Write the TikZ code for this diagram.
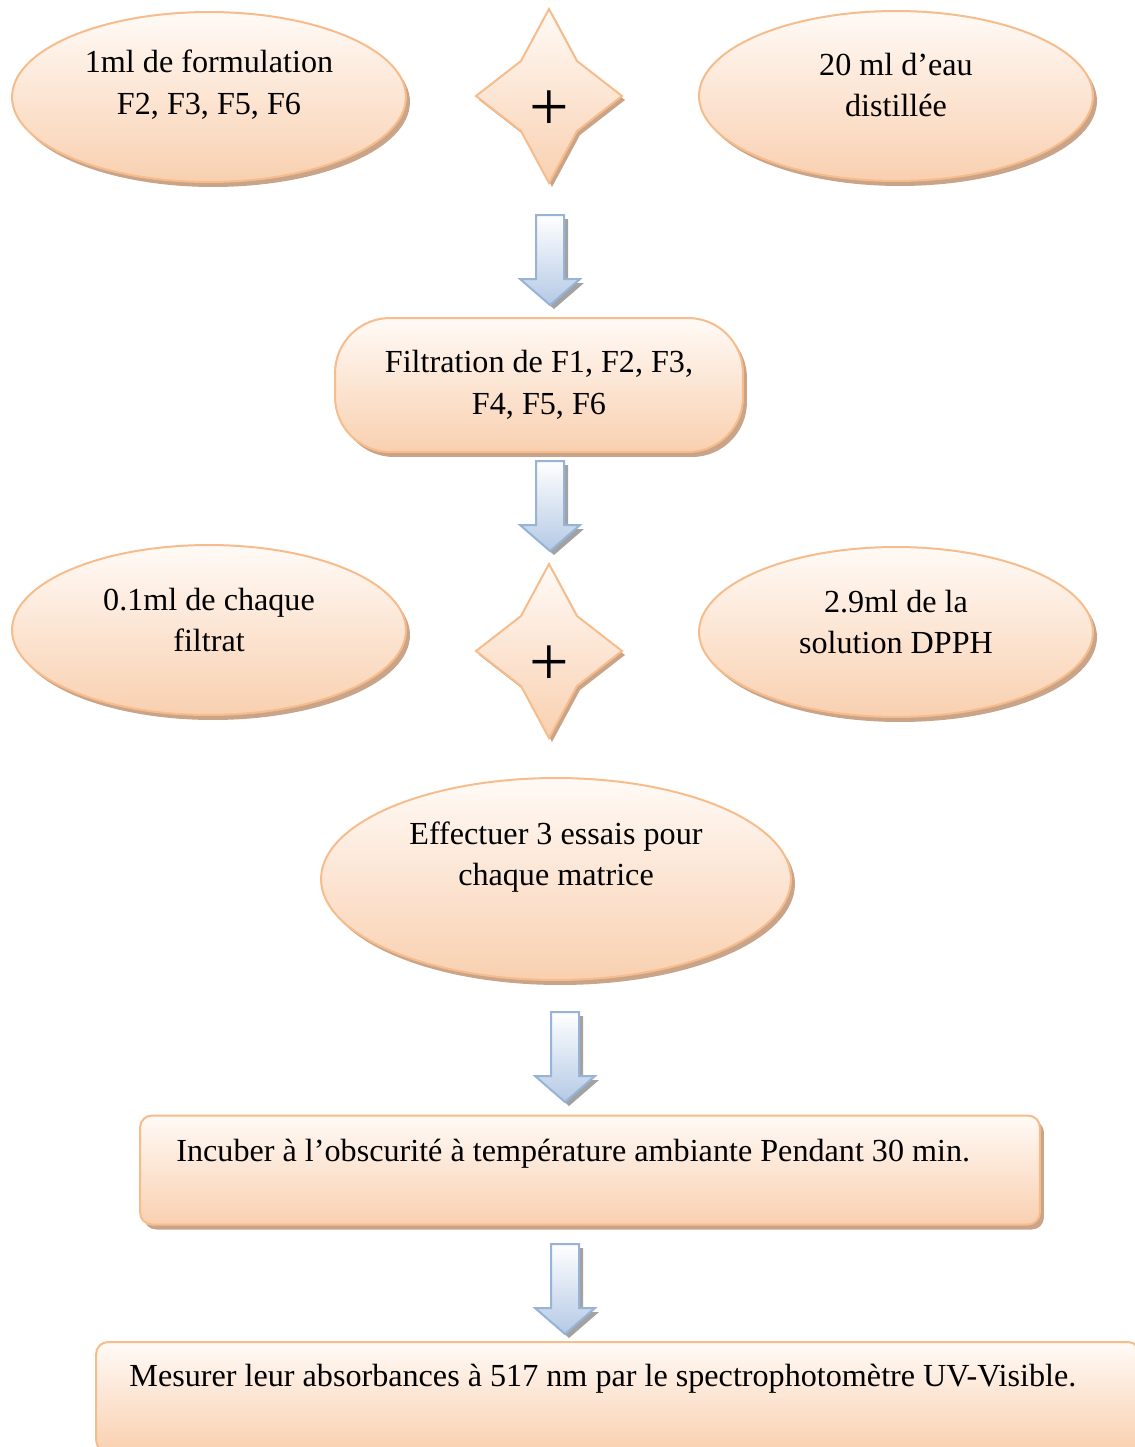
\documentclass[tikz,border=0pt]{standalone}
\usepackage{fontspec}
\setmainfont{Liberation Serif}
\usetikzlibrary{calc,shadows,shapes.geometric}
\definecolor{peachtop}{HTML}{FFFAF6}
\definecolor{peachbot}{HTML}{F9D0B0}
\definecolor{peachline}{HTML}{F6BC8C}
\definecolor{peachshadow}{HTML}{C9A488}
\definecolor{bluetop}{HTML}{FFFFFF}
\definecolor{bluebot}{HTML}{B4C9E5}
\definecolor{blueline}{HTML}{97B3D8}
\definecolor{greyshadow}{HTML}{A2A2A2}
\def\fourstar(#1,#2){\draw[starbox] (#1,#2) ++(0,-87) -- ++(28,52) -- ++(45,35) -- ++(-45,35) -- ++(-28,52) -- ++(-28,-52) -- ++(-45,-35) -- ++(45,-35) -- cycle;}
\def\blockarrow(#1,#2){\draw[arrowbox] (#1,#2) ++(-14,0) -- ++(28,0) -- ++(0,64) -- ++(16,0) -- ++(-30,26) -- ++(-30,-26) -- ++(16,0) -- cycle;}

\begin{document}
\begin{tikzpicture}[x=0.02cm, y=-0.02cm, font=\fontsize{18.3}{23.8}\selectfont,
		peach/.style={draw=peachline, line width=0.04cm, top color=peachtop, bottom color=peachbot,
			drop shadow={shadow xshift=0.08cm, shadow yshift=-0.1cm, fill=peachshadow, opacity=1}},
		oval/.style={peach, ellipse, minimum width=7.88cm, minimum height=3.4cm, inner sep=0pt},
		starbox/.style={draw=peachline, line width=0.04cm, line join=miter, top color=peachtop, bottom color=peachbot,
			drop shadow={shadow xshift=0.06cm, shadow yshift=-0.08cm, fill=peachshadow, opacity=1}},
		arrowbox/.style={draw=blueline, line width=0.04cm, top color=bluetop, bottom color=bluebot,
			drop shadow={shadow xshift=0.08cm, shadow yshift=-0.08cm, fill=greyshadow, opacity=1}},
		lbl/.style={inner sep=0pt, align=center},
		plus/.style={inner sep=0pt, font=\fontsize{40}{40}\selectfont}]
			%%%%% START %%%%%
			\useasboundingbox (0,0) rectangle (1134,1447);
			
			% first mixture
			\node[oval, label={[lbl, yshift=0.24cm]center:{1ml de formulation\\F2, F3, F5, F6}}] (form) at (209,97) {};
			\fourstar(549,96);
			\node[plus] (plusa) at (549,111) {+};
			\node[oval, label={[lbl, yshift=0.22cm]center:{20 ml d’eau\\distillée}}] (eau) at (896,96) {};
			
			\blockarrow(550,215);
			
			\node[peach, rounded corners=1.1cm, minimum width=8.16cm, minimum height=2.68cm, lbl] (filt) at (539,385) {Filtration de F1, F2, F3,\\F4, F5, F6};
			
			\blockarrow(550,461);
			
			% second mixture
			\node[oval, label={[lbl, yshift=0.2cm]center:{0.1ml de chaque\\filtrat}}] (filtrat) at (209,630) {};
			\fourstar(549,651);
			\node[plus] (plusb) at (549,666) {+};
			\node[oval, label={[lbl, yshift=0.2cm]center:{2.9ml de la\\solution DPPH}}] (dpph) at (896,632) {};
			
			\node[oval, minimum width=9.4cm, minimum height=4.04cm, label={[lbl, yshift=0.44cm]center:{Effectuer 3 essais pour\\chaque matrice}}] (essais) at (556,879) {};
			
			\blockarrow(565,1012);
			
			\node[peach, rounded corners=0.24cm, minimum width=18cm, minimum height=2.18cm,
				label={[lbl, anchor=west, xshift=0.74cm, yshift=0.33cm]west:{Incuber à l’obscurité à température ambiante Pendant 30 min.}}] (incub) at (590,1170) {};
			
			\blockarrow(565,1244);
			
			\node[peach, rounded corners=0.24cm, minimum width=20.88cm, minimum height=2.2cm,
				label={[lbl, anchor=west, xshift=0.68cm, yshift=0.36cm]west:{Mesurer leur absorbances à 517 nm par le spectrophotomètre UV-Visible.}}] (mesure) at (618,1397) {};
			
			%%%%% END %%%%%
\end{tikzpicture}
\end{document}
